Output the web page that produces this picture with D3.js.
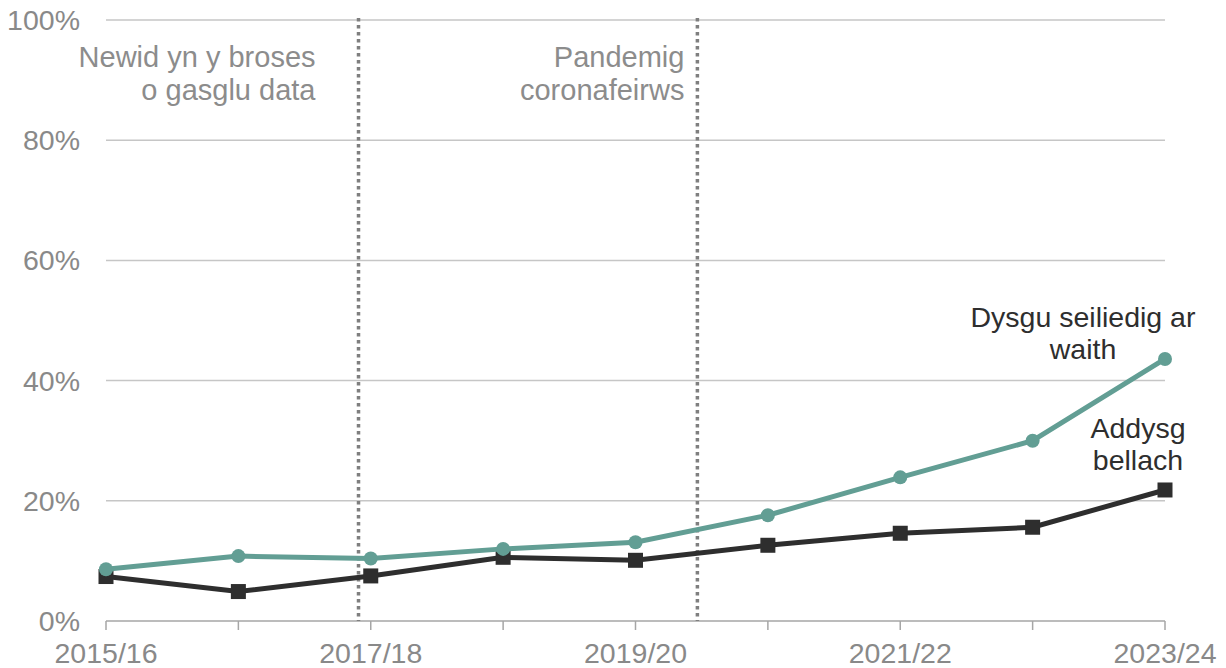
<!DOCTYPE html>
<html>
<head>
<meta charset="utf-8">
<script src="https://cdn.jsdelivr.net/npm/d3@7"></script>
<style>
  body { margin: 0; background: #fff; }
  text { font-family: "Liberation Sans", Arial, sans-serif; }
</style>
</head>
<body>
<div id="chart"></div>
<script>
// data
const years = ["2015/16", "2016/17", "2017/18", "2018/19", "2019/20", "2020/21", "2021/22", "2022/23", "2023/24"];
const shownYears = ["2015/16", "2017/18", "2019/20", "2021/22", "2023/24"];
const workBased = [8.6, 10.8, 10.4, 12.0, 13.1, 17.6, 23.9, 30.0, 43.6];
const furtherEd = [7.4, 4.9, 7.5, 10.6, 10.1, 12.6, 14.6, 15.6, 21.8];
const yTicks = [0, 20, 40, 60, 80, 100];
// event lines sit between years (position as fractional year index)
const eventPos = [1.9, 4.46];
const eventLabels = [["Newid yn y broses", "o gasglu data"], ["Pandemig", "coronafeirws"]];

const W = 1226, H = 668;
const margin = { top: 20, right: 61, bottom: 47, left: 106 };
const width = W - margin.left - margin.right;
const height = H - margin.top - margin.bottom;

const svg = d3.select("#chart").append("svg")
  .attr("width", W).attr("height", H)
  .append("g")
  .attr("transform", `translate(${margin.left},${margin.top})`);

const x = d3.scaleLinear().domain([0, years.length - 1]).range([0, width]);
const y = d3.scaleLinear().domain([0, 100]).range([height, 0]);

// gridlines
svg.selectAll(".grid").data(yTicks.filter(d => d > 0)).enter()
  .append("line")
  .attr("x1", 0).attr("x2", width)
  .attr("y1", d => y(d)).attr("y2", d => y(d))
  .attr("stroke", "#c6c6c6").attr("stroke-width", 1.5);

// y labels
svg.selectAll(".ylab").data(yTicks).enter()
  .append("text")
  .attr("x", -26).attr("y", d => y(d)).attr("dy", "0.35em")
  .attr("text-anchor", "end")
  .attr("font-size", 28.5).attr("fill", "#898989")
  .text(d => d + "%");

// x axis
const xAxis = svg.append("g").attr("transform", `translate(0,${height})`);
xAxis.append("line").attr("x1", 0).attr("x2", width).attr("stroke", "#a6a6a6").attr("stroke-width", 1.5);
xAxis.selectAll(".tick").data(years).enter()
  .append("line")
  .attr("x1", (d, i) => x(i)).attr("x2", (d, i) => x(i))
  .attr("y1", 0).attr("y2", 9)
  .attr("stroke", "#a6a6a6").attr("stroke-width", 1.5);
xAxis.selectAll(".xlab").data(years).enter()
  .filter(d => shownYears.includes(d))
  .append("text")
  .attr("x", (d) => x(years.indexOf(d))).attr("y", 42)
  .attr("text-anchor", "middle")
  .attr("font-size", 28.5).attr("fill", "#898989")
  .text(d => d);

// event lines
svg.selectAll(".event").data(eventPos).enter()
  .append("line")
  .attr("x1", d => x(d) + 1).attr("x2", d => x(d) + 1)
  .attr("y1", y(100) - 2).attr("y2", height)
  .attr("stroke", "#7f7f7f").attr("stroke-width", 3.5)
  .attr("stroke-dasharray", "3.5,3.5");

// gap between each label's right edge and its line
const labelGap = [42, 12];
eventLabels.forEach((lines, k) => {
  const t = svg.append("text")
    .attr("text-anchor", "end")
    .attr("font-size", 29).attr("fill", "#8c8c8c");
  lines.forEach((s, j) => {
    t.append("tspan").attr("x", x(eventPos[k]) - labelGap[k]).attr("y", 47 + j * 33).text(s);
  });
});

// series
const line = d3.line().x((d, i) => x(i)).y(d => y(d));

svg.append("path").datum(furtherEd)
  .attr("fill", "none").attr("stroke", "#2e2e2e").attr("stroke-width", 5)
  .attr("d", line);
svg.selectAll(".sq").data(furtherEd).enter()
  .append("rect")
  .attr("x", (d, i) => x(i) - 7.5).attr("y", d => y(d) - 7.5)
  .attr("width", 15).attr("height", 15)
  .attr("fill", "#2e2e2e");

svg.append("path").datum(workBased)
  .attr("fill", "none").attr("stroke", "#629e94").attr("stroke-width", 5)
  .attr("d", line);
svg.selectAll(".dot").data(workBased).enter()
  .append("circle")
  .attr("cx", (d, i) => x(i)).attr("cy", d => y(d))
  .attr("r", 7).attr("fill", "#629e94");

// series labels
const seriesLabels = [
  { lines: ["Dysgu seiliedig ar", "waith"], cx: 977, top: 307 },
  { lines: ["Addysg", "bellach"], cx: 1032, top: 418 }
];
seriesLabels.forEach(l => {
  const t = svg.append("text").attr("text-anchor", "middle")
    .attr("font-size", 28.5).attr("fill", "#2e2e2e");
  l.lines.forEach((s, j) => {
    t.append("tspan").attr("x", l.cx).attr("y", l.top + j * 32).text(s);
  });
});
</script>
</body>
</html>
